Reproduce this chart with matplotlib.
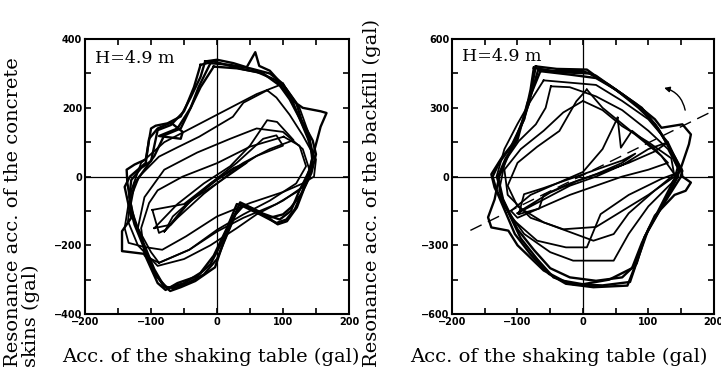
import numpy as np
import matplotlib.pyplot as plt
from matplotlib.ticker import MultipleLocator

# ---- left panel: concrete skins, loops (gal) ----
skin_outer1_x = [-18, 0, 25, 45, 58, 64, 80, 105, 120, 128, 145, 150, 143, 132, 121, 106, 92, 62, 35, 25, 10, -3, -33, -55, -71, -83, -100, -115, -129, -136, -137, -125, -108, -100, -93, -75, -55, -40, -25, -18]
skin_outer1_y = [335, 340, 330, 318, 362, 322, 308, 255, 215, 165, 105, 65, 10, -35, -90, -130, -139, -100, -75, -120, -190, -264, -304, -322, -333, -313, -260, -180, -101, -17, 20, 35, 50, 140, 148, 155, 175, 230, 290, 335]

skin_outer2_x = [-10, 20, 50, 80, 100, 115, 130, 157, 166, 157, 148, 140, 130, 118, 105, 90, 65, 38, 20, 5, -10, -30, -60, -78, -90, -110, -144, -144, -130, -140, -132, -120, -108, -103, -90, -70, -52, -55, -88, -60, -40, -28, -10]
skin_outer2_y = [330, 325, 315, 300, 270, 220, 200, 190, 185, 145, 80, 20, -40, -95, -125, -135, -110, -85, -130, -200, -255, -290, -310, -330, -310, -225, -217, -159, -120, -30, 0, 20, 40, 110, 140, 157, 130, 110, 118, 140, 200, 260, 330]

skin_outer3_x = [-5, 30, 60, 90, 112, 125, 138, 145, 140, 128, 112, 100, 80, 50, 30, 15, -5, -25, -50, -75, -92, -110, -125, -132, -125, -110, -95, -80, -55, -40, -25, -5]
skin_outer3_y = [320, 315, 305, 280, 230, 170, 110, 60, 0, -50, -90, -110, -120, -90, -80, -150, -230, -280, -310, -325, -290, -210, -140, -90, -20, 20, 60, 120, 140, 200, 260, 320]

skin_outer4_x = [-25, -5, 20, 40, 70, 95, 110, 125, 140, 146, 138, 125, 112, 95, 70, 40, 28, 15, 0, -20, -45, -65, -80, -95, -110, -125, -133, -130, -115, -100, -90, -70, -50, -35, -25]
skin_outer4_y = [325, 335, 322, 312, 300, 265, 225, 170, 110, 60, 0, -40, -100, -125, -108, -85, -110, -170, -240, -285, -310, -325, -320, -270, -200, -130, -60, -10, 25, 45, 135, 150, 190, 260, 325]

skin_mid1_x = [100, 60, 20, -30, -80, -115, -130, -135, -120, -90, -50, -10, 30, 60, 100, 130, 145, 140, 125, 100]
skin_mid1_y = [270, 240, 200, 150, 100, 40, -40, -130, -200, -260, -240, -200, -150, -110, -70, -30, 30, 120, 200, 270]

skin_mid2_x = [-88, -42, 0, 40, 90, 125, 140, 130, 100, 60, 20, -30, -80, -110, -120, -100, -88]
skin_mid2_y = [-251, -213, -160, -120, -80, -40, 20, 80, 130, 140, 110, 70, 20, -60, -150, -220, -251]

skin_inner1_x = [76, 40, 24, -27, -60, -88, -118, -134, -140, -134, -110, -83, -47, 0, 50, 100, 130, 147, 150, 130, 110, 90, 76]
skin_inner1_y = [251, 215, 174, 116, 85, 58, 0, -77, -150, -193, -205, -213, -174, -116, -77, -45, -20, 0, 50, 120, 180, 230, 251]

skin_inner2_x = [101, 50, 0, -52, -90, -103, -115, -110, -88, -42, 0, 40, 80, 120, 135, 125, 101]
skin_inner2_y = [116, 87, 39, 0, -40, -77, -150, -230, -251, -213, -155, -110, -70, -20, 30, 90, 116]

skin_inner3_x = [-95, -60, -20, 20, 50, 76, 91, 116, 80, 40, 0, -40, -70, -95]
skin_inner3_y = [-150, -80, -20, 30, 90, 164, 159, 106, 80, 40, -10, -70, -140, -150]

skin_inner4_x = [-80, -50, -10, 30, 70, 90, 100, 60, 20, -20, -60, -80]
skin_inner4_y = [-160, -90, -20, 40, 110, 120, 90, 60, 10, -50, -120, -160]

skin_inner5_x = [-98, -88, -78, -67, -40, 0, 30, 45, 25, -10, -50, -98]
skin_inner5_y = [-97, -164, -155, -116, -70, -20, 20, 40, 25, -20, -80, -97]

# ---- right panel: backfill ----
fill_outer1_x = [-72, -40, 6, 27, 60, 94, 120, 141, 152, 149, 120, 94, 79, 68, 16, -26, -52, -80, -104, -130, -135, -140, -124, -104, -83, -72]
fill_outer1_y = [481, 470, 467, 423, 360, 286, 184, 83, 25, -4, -135, -265, -396, -476, -483, -468, -425, -340, -251, -77, -48, 10, 83, 155, 315, 481]

fill_outer2_x = [-68, -30, 10, 40, 80, 110, 120, 152, 165, 162, 150, 152, 165, 157, 140, 110, 90, 75, 40, 0, -30, -60, -100, -114, -140, -145, -135, -128, -110, -90, -75, -68]
fill_outer2_y = [470, 455, 450, 400, 320, 250, 213, 228, 184, 141, 40, 0, -26, -62, -80, -170, -290, -400, -450, -470, -455, -410, -300, -236, -222, -178, -100, 0, 120, 250, 400, 470]

fill_outer3_x = [-65, -20, 20, 50, 85, 110, 130, 145, 140, 115, 95, 82, 60, 20, -20, -50, -75, -100, -122, -130, -118, -100, -85, -65]
fill_outer3_y = [460, 445, 430, 380, 300, 230, 140, 40, -10, -150, -260, -380, -440, -455, -440, -400, -320, -230, -100, 0, 80, 160, 320, 460]

fill_outer4_x = [-75, -50, 0, 20, 50, 90, 115, 135, 148, 145, 125, 100, 85, 72, 30, -15, -45, -70, -95, -120, -132, -138, -128, -110, -90, -80, -75]
fill_outer4_y = [475, 460, 460, 440, 380, 300, 210, 110, 40, 0, -110, -230, -350, -460, -475, -470, -440, -360, -270, -120, -60, 0, 60, 130, 250, 380, 475]

fill_mid1_x = [-60, -80, -100, -120, -132, -120, -90, -50, -15, 47, 70, 100, 135, 150, 130, 100, 60, 20, -60]
fill_mid1_y = [420, 330, 230, 120, 0, -130, -250, -330, -367, -367, -250, -130, -30, 30, 150, 250, 330, 400, 420]

fill_mid2_x = [0, -30, -60, -95, -120, -115, -80, -30, 20, 60, 100, 140, 135, 100, 60, 30, 0]
fill_mid2_y = [330, 280, 200, 120, 30, -80, -180, -230, -220, -150, -80, 0, 80, 150, 220, 290, 330]

fill_inner1_x = [-49, -57, -72, -98, -119, -128, -110, -70, -26, 6, 27, 70, 120, 148, 130, 100, 60, 20, -20, -49]
fill_inner1_y = [394, 300, 228, 155, 68, -60, -180, -280, -309, -309, -164, -80, -10, 20, 120, 200, 290, 350, 390, 394]

fill_inner2_x = [6, -10, -36, -70, -100, -115, -100, -60, 16, 47, 70, 110, 140, 120, 90, 60, 30, 6]
fill_inner2_y = [380, 329, 199, 130, 60, -40, -130, -200, -280, -251, -160, -60, 10, 90, 160, 230, 300, 380]

fill_inner3_x = [53, 58, 75, 110, 130, 100, 60, 20, -20, -60, -100, -110, -80, -40, 0, 30, 53]
fill_inner3_y = [257, 126, 200, 120, 60, 30, 0, -40, -80, -130, -180, -150, -80, -30, 20, 120, 257]

fill_inner4_x = [-100, -60, -20, 20, 60, 100, 130, 110, 70, 30, -10, -50, -90, -100]
fill_inner4_y = [-160, -100, -40, 0, 50, 120, 150, 110, 60, 20, -20, -70, -140, -160]

fill_inner5_x = [-98, -67, -60, -20, 20, 60, 80, 60, 20, -20, -60, -90, -98]
fill_inner5_y = [-164, -140, -80, -30, 10, 60, 100, 70, 30, -10, -50, -77, -164]

# dashed principal axis and rotation arrow on the right panel
axis_line_x = [-172, 215]
axis_line_y = [-235, 309]
arrow_tail = (157, 278)
arrow_head = (120, 390)

skin_outer = [(skin_outer1_x, skin_outer1_y), (skin_outer2_x, skin_outer2_y),
              (skin_outer3_x, skin_outer3_y), (skin_outer4_x, skin_outer4_y)]
skin_inner = [(skin_mid1_x, skin_mid1_y), (skin_mid2_x, skin_mid2_y),
              (skin_inner1_x, skin_inner1_y), (skin_inner2_x, skin_inner2_y), (skin_inner3_x, skin_inner3_y),
              (skin_inner4_x, skin_inner4_y), (skin_inner5_x, skin_inner5_y)]
fill_outer = [(fill_outer1_x, fill_outer1_y), (fill_outer2_x, fill_outer2_y),
              (fill_outer3_x, fill_outer3_y), (fill_outer4_x, fill_outer4_y)]
fill_inner = [(fill_mid1_x, fill_mid1_y), (fill_mid2_x, fill_mid2_y),
              (fill_inner1_x, fill_inner1_y), (fill_inner2_x, fill_inner2_y), (fill_inner3_x, fill_inner3_y),
              (fill_inner4_x, fill_inner4_y), (fill_inner5_x, fill_inner5_y)]

serif = 'DejaVu Serif'
fig = plt.figure(figsize=(7.21, 3.69), dpi=100)
ax1 = fig.add_axes([0.118, 0.149, 0.366, 0.745])
ax2 = fig.add_axes([0.627, 0.149, 0.363, 0.745])


def style_axes(ax, ylim, ymajor, yminor):
    ax.set_xlim(-200, 200)
    ax.set_ylim(-ylim, ylim)
    ax.axhline(0, color='black', lw=0.9)
    ax.axvline(0, color='black', lw=0.9)
    ax.xaxis.set_major_locator(MultipleLocator(100))
    ax.xaxis.set_minor_locator(MultipleLocator(50))
    ax.yaxis.set_major_locator(MultipleLocator(ymajor))
    ax.yaxis.set_minor_locator(MultipleLocator(yminor))
    ax.tick_params(which='both', direction='in', top=True, right=True, width=1.2)
    ax.tick_params(which='major', length=4, labelsize=7, pad=2)
    ax.tick_params(which='minor', length=4)
    for lab in ax.get_xticklabels() + ax.get_yticklabels():
        lab.set_fontweight('bold')
    for sp in ax.spines.values():
        sp.set_linewidth(1.5)


for x, y in skin_outer:
    ax1.plot(x, y, color='black', lw=1.7)
for x, y in skin_inner:
    ax1.plot(x, y, color='black', lw=1.3)
style_axes(ax1, 400, 200, 100)
ax1.text(-185, 345, 'H=4.9 m', family=serif, fontsize=12.5, va='center')

for x, y in fill_outer:
    ax2.plot(x, y, color='black', lw=1.7)
for x, y in fill_inner:
    ax2.plot(x, y, color='black', lw=1.3)
ax2.plot(axis_line_x, axis_line_y, color='black', lw=1.0, linestyle=(0, (9, 5)))
ax2.annotate('', xy=arrow_head, xytext=arrow_tail,
             arrowprops=dict(arrowstyle='-|>', color='black', lw=1.0,
                             connectionstyle='arc3,rad=0.35', mutation_scale=8))
style_axes(ax2, 600, 300, 150)
ax2.text(-185, 525, 'H=4.9 m', family=serif, fontsize=12.5, va='center')

# axis titles
fig.text(0.293, 0.02, 'Acc. of the shaking table (gal)', family=serif, fontsize=14, ha='center')
fig.text(0.775, 0.02, 'Acc. of the shaking table (gal)', family=serif, fontsize=14, ha='center')
fig.text(0.006, 0.005, 'Resonance acc. of the concrete\nskins (gal)', family=serif, fontsize=14,
         rotation=90, ha='left', va='bottom', multialignment='left', linespacing=0.95)
fig.text(0.503, 0.005, 'Resonance acc. of the backfill (gal)', family=serif, fontsize=14,
         rotation=90, ha='left', va='bottom')

plt.savefig('out.png', dpi=100)
